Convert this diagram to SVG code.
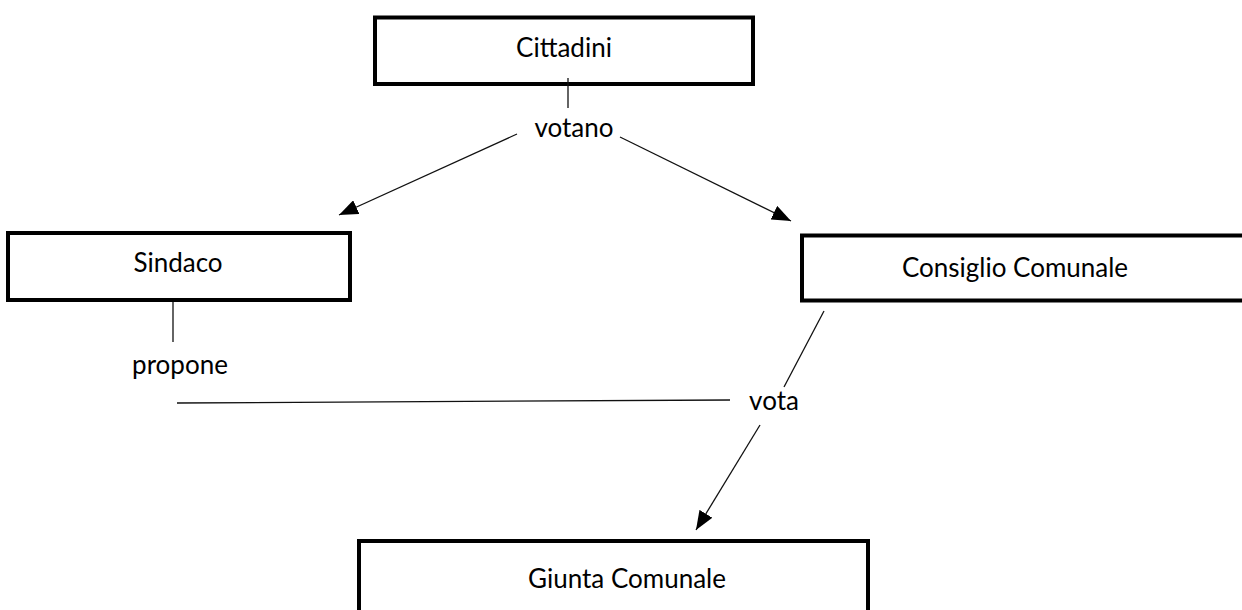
<svg xmlns="http://www.w3.org/2000/svg" width="1242" height="610" viewBox="0 0 1242 610">
<style>
.box{fill:#fff;stroke:#000;stroke-width:4;}
.lbl{font-family:Lato,"Liberation Sans",sans-serif;font-size:26px;fill:#000;text-anchor:middle;}
.ln{stroke:#111;stroke-width:1.3;fill:none;}
</style>
<defs>
<marker id="ah" viewBox="0 0 19 15" refX="19" refY="7.5" markerWidth="19" markerHeight="15" markerUnits="userSpaceOnUse" orient="auto">
<path d="M0,0 L19,7.5 L0,15 z" fill="#000"/>
</marker>
</defs>
<rect width="1242" height="610" fill="#fff"/>
<g id="cittadini">
<rect class="box" x="375" y="17.5" width="378" height="66.5"/>
<text class="lbl" x="564" y="57">Cittadini</text>
</g>
<g id="sindaco">
<rect class="box" x="8" y="233" width="342" height="67"/>
<text class="lbl" x="178" y="272">Sindaco</text>
</g>
<g id="consiglio">
<rect class="box" x="802" y="235.5" width="460" height="65"/>
<text class="lbl" x="1015" y="277">Consiglio Comunale</text>
</g>
<g id="giunta">
<rect class="box" x="359" y="541" width="509" height="90"/>
<text class="lbl" x="627" y="588">Giunta Comunale</text>
</g>
<g id="connectors">
<line class="ln" x1="568" y1="78" x2="568" y2="108"/>
<text class="lbl" x="574" y="137">votano</text>
<line class="ln" x1="517" y1="134" x2="339" y2="215" marker-end="url(#ah)"/>
<line class="ln" x1="620" y1="137" x2="791" y2="221" marker-end="url(#ah)"/>
<line class="ln" x1="173" y1="302" x2="173" y2="342"/>
<text class="lbl" x="180" y="374">propone</text>
<line class="ln" x1="177" y1="403" x2="730" y2="400"/>
<line class="ln" x1="824" y1="311" x2="784" y2="387"/>
<text class="lbl" x="774" y="410">vota</text>
<line class="ln" x1="760" y1="425" x2="696" y2="530" marker-end="url(#ah)"/>
</g>
</svg>
